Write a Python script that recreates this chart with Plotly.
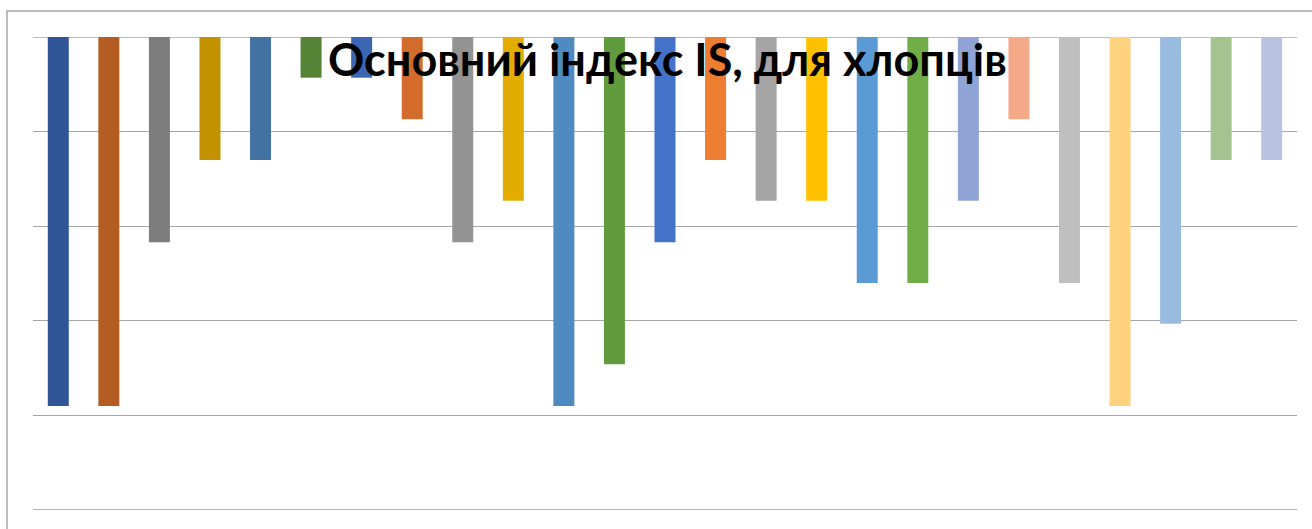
import plotly.graph_objects as go

categories = [str(i) for i in range(1, 26)]
values = [-3.9, -3.9, -2.17, -1.3, -1.3, -0.43, -0.43, -0.87, -2.17, -1.73,
          -3.9, -3.46, -2.17, -1.3, -1.73, -1.73, -2.6, -2.6, -1.73, -0.87,
          -2.6, -3.9, -3.03, -1.3, -1.3]
colors = ["#2F5597", "#B45C21", "#7C7C7C", "#C39200", "#4373A2", "#548335",
          "#3C66B4", "#D36C2A", "#939393", "#E3AC00", "#4F8AC0", "#629A3E",
          "#4472C8", "#ED7D31", "#A5A5A5", "#FFC000", "#5B9BD5", "#70AD47",
          "#8FA4D5", "#F4AA88", "#BFBFBF", "#FFD280", "#9ABBE0", "#A3C490",
          "#B8C3E2"]
title_text = "Основний індекс IS, для хлопців"

fig = go.Figure()
fig.add_trace(go.Bar(x=categories, y=values, marker=dict(color=colors, line=dict(width=0)),
                     width=0.415, hoverinfo="skip"))

fig.update_layout(
    width=1312, height=529,
    margin=dict(l=33, r=15, t=37, b=19),
    paper_bgcolor="white", plot_bgcolor="white",
    showlegend=False,
    xaxis=dict(showticklabels=False, showgrid=False, zeroline=False, showline=False,
               range=[-0.5, 24.5]),
    yaxis=dict(showticklabels=False, range=[-5, 0], dtick=1, showgrid=True,
               gridcolor="#A6A6A6", gridwidth=1.3, zeroline=False, showline=False),
    annotations=[dict(text="<b>" + title_text + "</b>", x=0.502, y=0.953,
                      xref="paper", yref="paper", xanchor="center", yanchor="middle",
                      showarrow=False,
                      font=dict(family="Lato, Carlito, Calibri, sans-serif", size=45,
                                color="#000000"))],
    shapes=[dict(type="rect", xref="paper", yref="paper", x0=-0.0206, x1=1.2,
                 y0=-0.5, y1=1.0548, line=dict(color="#A6A6A6", width=1.5),
                 fillcolor="rgba(0,0,0,0)", layer="below")],
)
# gridlines at the range ends
fig.add_hline(y=0, line=dict(color="#A6A6A6", width=1.3), layer="below")
fig.add_hline(y=-5, line=dict(color="#9A9A9A", width=1.5), layer="below")

fig.write_html("out.html", config={"displayModeBar": False},
               post_script="document.body.style.margin='0';")
